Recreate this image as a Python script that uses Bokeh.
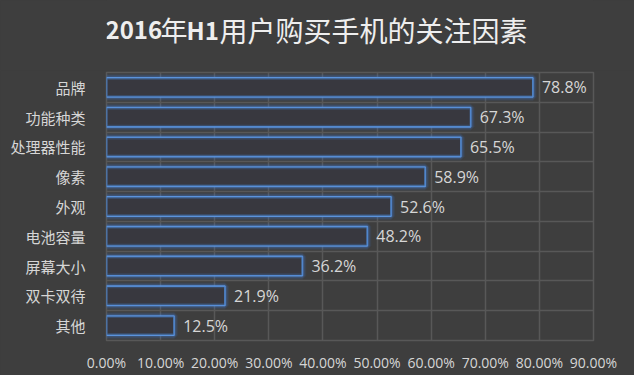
from bokeh.plotting import figure
from bokeh.models import FixedTicker, ColumnDataSource
from bokeh.layouts import column
from bokeh.core.properties import value
from bokeh.embed import file_html
from bokeh.resources import INLINE

categories = ["品牌", "功能种类", "处理器性能", "像素", "外观", "电池容量", "屏幕大小", "双卡双待", "其他"]
values = [78.8, 67.3, 65.5, 58.9, 52.6, 48.2, 36.2, 21.9, 12.5]
x_ticks = [0, 10, 20, 30, 40, 50, 60, 70, 80, 90]
x_tick_labels = ["0.00%", "10.00%", "20.00%", "30.00%", "40.00%", "50.00%", "60.00%", "70.00%", "80.00%", "90.00%"]
title_parts = ["2016", "年", "H1", "用户购买手机的关注因素"]
title_styles = ["bold", "normal", "bold", "normal"]
title_sizes = ["24px", "27px", "24px", "28px"]

BG = "#3e3e3e"
GRID = "#585858"
TEXT = "#d6d6d6"
CJK = "Noto Sans CJK SC"

W, H = 634, 375
TH = 70  # title strip height
FL, FR, FT, FB = 106, 41, 2, 35
n = len(categories)
ys = [n - i - 0.5 for i in range(n)]
labels = [f"{v}%" for v in values]
src = ColumnDataSource(dict(y=ys, v=values, lab=labels))

# ---- title strip (its own small figure, frame aligned with the chart's frame) ----
t = figure(width=W, height=TH, output_backend="svg", toolbar_location=None,
           x_range=(FL, W - FR), y_range=(0, TH),
           min_border_left=FL, min_border_right=FR, min_border_top=0, min_border_bottom=0)
t.xaxis.visible = False
t.yaxis.visible = False
t.xgrid.grid_line_color = None
t.ygrid.grid_line_color = None
t.outline_line_color = None
t.background_fill_color = BG
t.border_fill_color = BG
tsrc = ColumnDataSource(dict(x=[105, 160, 186, 219], y=[TH - 29] * 4, txt=title_parts,
                             st=title_styles, sz=title_sizes))
t.text(x="x", y="y", text="txt", text_font_style="st", text_font_size="sz", source=tsrc,
       text_font=value(CJK), text_color="#eeeeee", text_baseline="middle", text_align="left")

# ---- main chart ----
p = figure(width=W, height=H - TH, output_backend="svg", toolbar_location=None,
           x_range=(0, 90), y_range=(0, n),
           min_border_left=FL, min_border_right=FR, min_border_top=FT, min_border_bottom=FB)
p.background_fill_color = BG
p.border_fill_color = BG
p.outline_line_color = GRID
p.outline_line_width = 1.5

p.xgrid.ticker = FixedTicker(ticks=x_ticks)
p.ygrid.ticker = FixedTicker(ticks=list(range(n + 1)))
p.xgrid.grid_line_color = GRID
p.ygrid.grid_line_color = GRID
p.xgrid.grid_line_width = 1.5
p.ygrid.grid_line_width = 1.5

p.xaxis.ticker = FixedTicker(ticks=x_ticks)
p.xaxis.major_label_overrides = {tk: l for tk, l in zip(x_ticks, x_tick_labels)}
p.yaxis.ticker = FixedTicker(ticks=ys)
p.yaxis.major_label_overrides = {y: c for y, c in zip(ys, categories)}
for ax in (p.xaxis, p.yaxis):
    ax.axis_line_color = None
    ax.major_tick_line_color = None
    ax.minor_tick_line_color = None
    ax.major_label_text_color = TEXT
p.xaxis.major_label_text_font = "Open Sans"
p.xaxis.major_label_text_font_size = "14px"
p.yaxis.major_label_text_font = CJK
p.yaxis.major_label_text_font_size = "15px"
p.xaxis.major_label_standoff = 6
p.yaxis.major_label_standoff = 15

# glow layers
for lw, a in [(8, 0.08), (6, 0.12), (4, 0.2)]:
    p.hbar(y="y", right="v", left=0, height=0.65, source=src, fill_color=None,
           line_color="#3f7fd8", line_alpha=a, line_width=lw)
p.hbar(y="y", right="v", left=0, height=0.65, source=src, fill_color="#38383f",
       line_color="#5b93dc", line_width=1.6)
p.hbar(y="y", right="v", left=0, height=0.57, source=src, fill_color=None,
       line_color="#3f6fb0", line_alpha=0.35, line_width=2)

p.text(x="v", y="y", text="lab", source=src, x_offset=9, text_baseline="middle",
       text_color=TEXT, text_font=value("Open Sans"), text_font_size="16px")

layout = column(t, p, spacing=0, styles={"background-color": BG})
open("out.html", "w").write(file_html(layout, INLINE))
